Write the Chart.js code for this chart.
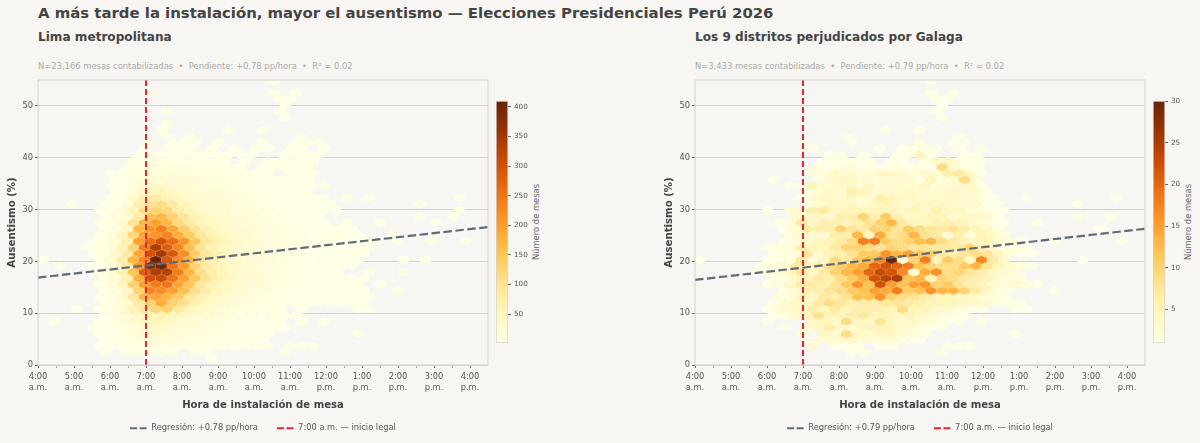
<!DOCTYPE html>
<html lang="es">
<head>
<meta charset="utf-8">
<title>Ausentismo por hora de instalación</title>
<script src="https://cdn.jsdelivr.net/npm/chart.js@4/dist/chart.umd.min.js"></script>
<style>
  html, body { margin: 0; background: #f7f6f2; }
  #page { position: relative; width: 1200px; height: 443px; overflow: hidden; background: #f7f6f2; font-family: "DejaVu Sans", sans-serif; }
  #page canvas { position: absolute; top: 0; }
  .txt { position: absolute; white-space: nowrap; line-height: 1; }
  .suptitle { left: 38px; top: 6px; font-size: 14.9px; font-weight: bold; color: #444; }
  .panel-title { top: 31px; font-size: 12.1px; font-weight: bold; color: #444; }
  .panel-sub { top: 62px; font-size: 8.4px; color: #aaa; }
  .cb-label { font-size: 8.4px; color: #666; transform: translate(-50%, -50%) rotate(-90deg); top: 222px; }
</style>
</head>
<body>
<div id="page">
  <div class="txt suptitle">A más tarde la instalación, mayor el ausentismo — Elecciones Presidenciales Perú 2026</div>
  <div class="txt panel-title" style="left:38px">Lima metropolitana</div>
  <div class="txt panel-sub" style="left:38px">N=23,166 mesas contabilizadas &nbsp;•&nbsp; Pendiente: +0.78 pp/hora &nbsp;•&nbsp; R² = 0.02</div>
  <div class="txt panel-title" style="left:695px">Los 9 distritos perjudicados por Galaga</div>
  <div class="txt panel-sub" style="left:695px">N=3,433 mesas contabilizadas &nbsp;•&nbsp; Pendiente: +0.79 pp/hora &nbsp;•&nbsp; R² = 0.02</div>
  <div class="txt cb-label" style="left:536px">Número de mesas</div>
  <div class="txt cb-label" style="left:1188px">Número de mesas</div>
  <canvas id="limaChart" width="526" height="443" style="left:0"></canvas>
  <canvas id="limaBar" width="50" height="443" style="left:490px"></canvas>
  <canvas id="galagaChart" width="526" height="443" style="left:657px"></canvas>
  <canvas id="galagaBar" width="50" height="443" style="left:1147px"></canvas>
</div>
<script>
// hex counts, one entry per row from the bottom up; each segment is [firstColumn, count, count, ...]
const limaRows = [
  [[15,1]],
  [[5,1],[7,2,3,4,3,2],[13,1,1],[21,1]],
  [[5,1,2,4,7,10,12,9,7,5,4,3,3,2,2,1,1],[22,1,1,1]],
  [[5,1,3,6,12,18,20,15,12,9,7,5,4,3,2,1]],
  [[5,2,4,8,16,26,30,24,18,14,10,8,6,4,3,2,1],[28,1]],
  [[4,1,3,6,12,24,36,42,34,26,20,15,11,8,6,4,3,2,1]],
  [[1,1],[5,3,7,16,30,46,54,44,32,26,20,15,11,8,6,4,2,1],[23,1],[25,1]],
  [[5,4,9,20,38,58,66,56,42,32,26,19,14,10,7,5,3,2,1]],
  [[3,1],[5,4,11,26,60,90,120,130,90,56,38,28,20,14,10,7,4,3],[23,1],[28,1,1]],
  [[5,4,12,30,80,130,180,130,110,70,50,36,26,19,14,10,7,5,3,2,2,1,1,1,1]],
  [[5,5,14,36,90,170,190,170,140,90,64,46,32,24,18,13,9,7,5,3,2,2,1,1,1,1]],
  [[5,4,14,44,130,230,220,200,160,110,76,54,38,28,20,15,11,8,6,4,3,2,1,1,1],[31,1]],
  [[5,6,18,50,130,200,240,250,190,150,90,62,44,32,24,17,12,9,7,5,3,2,2,1,1],[30,1]],
  [[5,6,22,70,180,300,310,250,200,150,100,70,50,36,26,19,14,10,8,5,4,3,2,1,1]],
  [[5,6,24,66,150,280,340,330,240,170,110,76,54,38,28,20,15,11,8,6,4,3,1],[29,1],[32,1]],
  [[1,1],[4,2,8,28,80,210,380,400,250,200,130,84,60,42,30,22,16,12,9,6,4,3,2,1,1]],
  [[0,1],[5,9,28,74,170,230,410,290,220,170,100,70,48,34,24,18,13,10,7,5,4,3,2,1,1],[32,1],[34,1]],
  [[4,2,9,30,84,190,300,350,290,220,140,90,62,44,32,24,17,13,10,7,5,4,3,2,1,1]],
  [[4,1,7,22,60,130,240,340,280,230,160,100,66,46,34,25,19,14,11,8,6,4,3,2,1,1,1]],
  [[4,1,6,22,70,200,260,300,260,210,150,96,66,48,34,26,19,15,11,8,6,4,3,2,1,1,1],[31,1],[34,1],[37,1]],
  [[5,5,16,50,120,190,210,230,180,140,90,62,46,34,26,20,15,11,8,6,4,3,2,1,1],[31,1]],
  [[5,4,14,50,170,210,240,190,140,96,66,48,36,27,21,16,12,9,7,5,3,2,1,1]],
  [[5,3,10,34,100,170,200,170,120,84,58,42,32,25,19,15,11,8,6,4,3,1],[27,1],[30,1],[35,1]],
  [[5,2,8,26,80,160,170,130,96,66,48,36,28,22,17,13,10,7,5,3,2],[33,1],[36,1]],
  [[5,2,6,20,60,110,130,120,80,56,42,32,25,19,15,12,9,6,4,3,2,1,1],[37,1]],
  [[2,1],[5,1,4,16,70,100,110,85,60,44,34,26,21,16,13,10,7,5,3,2,1,1],[33,1]],
  [[6,3,10,40,70,80,60,46,34,27,21,17,14,11,8,6,4,3,2,1,1],[27,1],[29,1],[37,1]],
  [[6,2,8,30,50,56,46,36,28,22,18,15,12,9,7,5,3,2,1]],
  [[6,1,5,18,32,38,34,28,23,18,15,12,10,8,6,4,3,2,1,1,1]],
  [[6,1,4,14,24,28,25,21,18,15,12,10,8,6,5,3,2,1,1]],
  [[6,1,2,8,15,19,18,16,14,12,10,8,6,5,4,3],[22,1,1,1]],
  [[7,2,6,11,14,14,12,10,9,8,6,5],[19,4,3,2,1,1]],
  [[8,3,6,8,9,8,7,6,5,4],[18,1],[20,1,1,1,1,1]],
  [[8,2,4,5,5,4,3,3,2,2,1,1],[21,1,1,1,1]],
  [[9,1],[11,2,2,1],[15,1],[17,1],[19,1,1],[22,1,1],[25,1]],
  [[9,1],[11,1,1],[13,1],[15,1],[19,1],[22,1,1,1]],
  [[11,1],[13,1],[23,1]],
  [[10,1],[16,1],[19,1]],
  [[11,1]],
  [[21,1]],
  [[11,1],[21,1]],
  [[21,1]],
  [[21,1,1]],
  [[9,1],[20,1],[22,1]],
  [],
  [[20,1]]
];

const galagaRows = [
  [],
  [[13,1,1],[21,1]],
  [[10,3],[12,1,1,1],[16,1,1],[22,1,1,1]],
  [[9,1,2,3,3,4,3,2,3,2,1,1]],
  [[9,2],[11,4,3,9,4,3,4,4,3,2,1],[28,1]],
  [[7,1],[9,3,4,6,4,3,4,5,5,4,3,2,1,1]],
  [[6,1],[10,4,5,4,9,4,4,8,4,3,4,3,2,1],[23,1],[25,1]],
  [[6,1,2,3,5,8,5,5,6,7,5,5,4,5,4,3,2,1,1]],
  [[6,1,3,3,4,6,5,7,5,6,6,6,5,9,5,5,4,3,2,1,1],[28,1,1]],
  [[6,1,3,4,4,7,9,8,6,6,6,7,8,7,6,5,5,5,4,4,3,2,1,1]],
  [[7,2,2,5,4,7,6,8,12,12,16,10,9,8,6,5,5,4,4,3,2,1]],
  [[7,2,3,6,6,8,9,11,12,15,14,18,11,12,16,13,13,10,7,4,2,1],[31,1]],
  [[6,1,2,4,7,7,6,8,11,16,12,22,15,12,15,16,10,11,8,6,5,3,2,3,2,1]],
  [[6,1,2,4,5,7,6,9,11,14,22,24,25,12,13,5,10,9,7,6,5,3,2,2]],
  [[5,1,2,3,4,8,4,7,10,13,15,20,23,22,17,3,14,16,9,10,8,6,4,3,2]],
  [[5,1,2,3,7,5,6,9,11,13,14,20,22,20,18,12,10,9,9,11,13,8,5,3,2,1]],
  [[0,1],[6,1,1,2,7,2,4,9,7,11,13,17,30,3,10,18,5,11,9,4,17,7,3],[34,1]],
  [[6,1,2,2,8,3,5,6,8,11,11,16,13,15,11,11,7,6,8,9,8,5,2,1,1]],
  [[6,1,2,2,6,5,5,7,10,10,9,8,10,9,8,8,7,7,7,10,6,4,2,2,1]],
  [[7,1,2,3,4,5,7,9,18,18,11,9,10,12,13,9,7,5,4,5,3,2,1],[31,1],[37,1]],
  [[8,2,3,3,3,6,6,13,4,14,8,9,13,8,7,3,6,2,5,4,2]],
  [[7,1,3,7,6,6,10,8,7,10,10,8,11,9,8,7,8,6,5,4,2],[35,1]],
  [[7,1,2,7,4,6,6,5,6,8,10,13,7,5,4,6,6,5,4,3,1,1],[30,1]],
  [[8,3,4,4,3,6,6,10,6,11,6,4,4,5,5,3,4,4,3,1],[33,1],[36,1]],
  [[6,1],[8,3,3,6,7,4,5,5,5,5,5,4,5,4,6,4,4,3,2,1,1]],
  [[9,1,3,4,4,4,3,4,5,4,3,4,4,4,3,3,3,1,1],[33,1]],
  [[9,1,3,4,3,4,3,3,6,5,4,4,3,4,3,3,3,2,1],[29,1],[37,1]],
  [[9,1,3,4,3,6,5,3,3,3,4,3,3,3,4,3,3,1]],
  [[8,1,1,5,3,3,4,3,4,3,3,3,3,4,3,3,3,4,1]],
  [[6,1],[10,1,3,4,4,3,2,3,3,3,2,5,2,3,9,3]],
  [[10,2,2,4,3,2,3,4,4,3,2,3,3,6,7,4,1]],
  [[10,2,1,2,2,1,1,1,2,1,2,1,9,3,2,1]],
  [[11,1,1,1,1,1],[17,1,1],[20,2,4,4,2,1,1]],
  [[11,1,1],[14,1],[17,1,1,5,1],[23,1,1]],
  [[10,1],[16,1],[18,1,2,1,1],[23,1],[25,1]],
  [[9,1],[13,1],[19,2],[22,1,1]],
  [[13,1],[23,1]],
  [[16,1],[19,1]],
  [],
  [[21,1]],
  [[21,1]],
  [[21,1]],
  [[21,1,1]],
  [[20,1],[22,1]],
  [],
  [[20,1]]
];

const hourTicks = ['4:00 a.m.','5:00 a.m.','6:00 a.m.','7:00 a.m.','8:00 a.m.','9:00 a.m.','10:00 a.m.','11:00 a.m.','12:00 p.m.','1:00 p.m.','2:00 p.m.','3:00 p.m.','4:00 p.m.'];
const limaFit = [16.87, 26.62];    // regression at 4:00 a.m. and at the right edge
const galagaFit = [16.42, 26.29];
const legalStart = 7;
const limaBarTicks = [50,100,150,200,250,300,350,400];
const galagaBarTicks = [5,10,15,20,25,30];
const limaMax = 410;
const galagaMax = 30;
const limaFitLabel = 'Regresión: +0.78 pp/hora';
const galagaFitLabel = 'Regresión: +0.79 pp/hora';
const legalLabel = '7:00 a.m. — inicio legal';

// YlOrBr
const ramp = [[255,255,229],[255,247,188],[254,227,145],[254,196,79],[254,153,41],[236,112,20],[204,76,2],[153,52,4],[102,37,6]];
const INK = '#555', LINE = '#d3d1cc';
const HOUR0 = 4.144, COL_H = 0.3125, ROW0 = 1.25, ROW_V = 1.192;
const FONT = '"DejaVu Sans", sans-serif';

function rampColor(t) {
  const p = Math.min(Math.max(t, 0), 1) * (ramp.length - 1);
  const i = Math.min(Math.floor(p), ramp.length - 2);
  const c = ramp[i].map((v, j) => Math.round(v + (ramp[i + 1][j] - v) * (p - i)));
  return `rgb(${c[0]},${c[1]},${c[2]})`;
}

// sprites per colour, the library stamps them at each hex centre
const sprites = {};
function hexSprite(color) {
  if (sprites[color]) return sprites[color];
  const c = document.createElement('canvas');
  c.width = 13; c.height = 10;
  const g = c.getContext('2d');
  const hw = 5.625, s = 4.13;
  g.translate(6.5, 5);
  g.beginPath();
  g.moveTo(0, -s); g.lineTo(hw, -s / 2); g.lineTo(hw, s / 2);
  g.lineTo(0, s); g.lineTo(-hw, s / 2); g.lineTo(-hw, -s / 2);
  g.closePath();
  g.fillStyle = color;
  g.fill();
  sprites[color] = c;
  return c;
}

function expandRows(rows) {
  const pts = [];
  rows.forEach((segments, r) => {
    segments.forEach(seg => {
      seg.slice(1).forEach((n, i) => {
        pts.push({ x: HOUR0 + COL_H * (seg[0] + i + (r % 2 ? 0.5 : 0)), y: ROW0 + ROW_V * r, n });
      });
    });
  });
  return pts;
}

const frame = {
  id: 'frame',
  afterDraw(chart) {
    const a = chart.chartArea, g = chart.ctx;
    g.save();
    g.strokeStyle = LINE;
    g.lineWidth = 1;
    g.strokeRect(a.left, a.top, a.right - a.left, a.bottom - a.top);
    g.restore();
  }
};

function panel(id, rows, vmax, fit, fitLabel) {
  new Chart(document.getElementById(id), {
    type: 'scatter',
    data: {
      datasets: [
        {
          label: 'mesas',
          data: expandRows(rows),
          order: 3,
          pointRadius: 6,
          pointStyle: ctx => hexSprite(rampColor((ctx.raw.n - 1) / (vmax - 1)))
        },
        {
          type: 'line',
          label: fitLabel,
          data: [{ x: 4, y: fit[0] }, { x: 16.5, y: fit[1] }],
          order: 2,
          borderColor: '#5f6c7b',
          backgroundColor: '#5f6c7b',
          borderWidth: 2.2,
          borderDash: [8.5, 3.5],
          pointRadius: 0
        },
        {
          type: 'line',
          label: legalLabel,
          data: [{ x: legalStart, y: 0 }, { x: legalStart, y: 55 }],
          order: 1,
          borderColor: '#e0282e',
          backgroundColor: '#e0282e',
          borderWidth: 2,
          borderDash: [6, 3],
          pointRadius: 0
        }
      ]
    },
    options: {
      responsive: false,
      animation: false,
      events: [],
      layout: { padding: { top: 80, bottom: 10 } },
      plugins: {
        tooltip: { enabled: false },
        legend: {
          position: 'bottom',
          maxHeight: 28,
          labels: {
            usePointStyle: true,
            pointStyleWidth: 17,
            boxHeight: 9,
            padding: 19,
            font: { family: FONT, size: 8.3 },
            generateLabels: chart => chart.data.datasets.slice(1).map((d, i) => ({
              text: d.label,
              strokeStyle: d.borderColor,
              fillStyle: d.borderColor,
              fontColor: INK,
              lineWidth: 2,
              lineDash: [7, 2.5],
              pointStyle: 'line',
              datasetIndex: i + 1
            }))
          }
        }
      },
      scales: {
        x: {
          type: 'linear',
          min: 4,
          max: 16.5,
          afterFit: s => { s.height = 40; },
          afterBuildTicks: s => { s.ticks = []; for (let v = 4; v <= 16; v += 0.5) s.ticks.push({ value: v }); },
          border: { display: false },
          grid: {
            drawOnChartArea: false,
            tickLength: 3,
            tickColor: c => (c.tick && Number.isInteger(c.tick.value) ? '#666' : '#aaa')
          },
          ticks: {
            autoSkip: false,
            maxRotation: 0,
            padding: 3,
            color: INK,
            font: { family: FONT, size: 8.3, lineHeight: 1.32 },
            callback: v => (Number.isInteger(v) ? hourTicks[v - 4].split(' ') : '')
          },
          title: { display: true, text: 'Hora de instalación de mesa', color: '#444', font: { family: FONT, size: 10.1, weight: 'bold' }, padding: { top: 0, bottom: -6 } }
        },
        y: {
          min: 0,
          max: 55,
          afterFit: s => { s.width = 38; },
          border: { display: false },
          grid: { color: LINE, tickColor: '#666', tickLength: 3 },
          ticks: { stepSize: 10, includeBounds: false, padding: 2, color: INK, font: { family: FONT, size: 8.3 } },
          title: { display: true, text: 'Ausentismo (%)', color: '#444', font: { family: FONT, size: 10.2, weight: 'bold' }, padding: { top: 6, bottom: 0 } }
        },
        // empty right axis keeps the legend centred under the plot
        spare: {
          position: 'right',
          afterFit: s => { s.width = 38; },
          border: { display: false },
          grid: { display: false },
          ticks: { display: false }
        }
      }
    },
    plugins: [frame]
  });
}

function colorBar(id, vmax, ticks) {
  new Chart(document.getElementById(id), {
    type: 'bar',
    data: {
      labels: ['mesas'],
      datasets: [{
        data: [[1, vmax]],
        barPercentage: 1,
        categoryPercentage: 1,
        borderColor: LINE,
        borderWidth: 1,
        borderSkipped: false,
        backgroundColor: ctx => {
          const a = ctx.chart.chartArea;
          if (!a) return ramp[0];
          const grad = ctx.chart.ctx.createLinearGradient(0, a.bottom, 0, a.top);
          ramp.forEach((_, i) => grad.addColorStop(i / (ramp.length - 1), rampColor(i / (ramp.length - 1))));
          return grad;
        }
      }]
    },
    options: {
      responsive: false,
      animation: false,
      events: [],
      layout: { padding: { top: 101, bottom: 100, left: 6 } },
      plugins: { legend: { display: false }, tooltip: { enabled: false } },
      scales: {
        x: { display: false },
        y: {
          position: 'right',
          min: 1,
          max: vmax,
          afterFit: s => { s.width = 32; },
          afterBuildTicks: s => { s.ticks = ticks.map(v => ({ value: v })); },
          border: { display: false },
          grid: { drawOnChartArea: false, tickLength: 3, tickColor: '#666' },
          ticks: { padding: 3, color: INK, font: { family: FONT, size: 7.2 } }
        }
      }
    }
  });
}

panel('limaChart', limaRows, limaMax, limaFit, limaFitLabel);
colorBar('limaBar', limaMax, limaBarTicks);
panel('galagaChart', galagaRows, galagaMax, galagaFit, galagaFitLabel);
colorBar('galagaBar', galagaMax, galagaBarTicks);
</script>
</body>
</html>
